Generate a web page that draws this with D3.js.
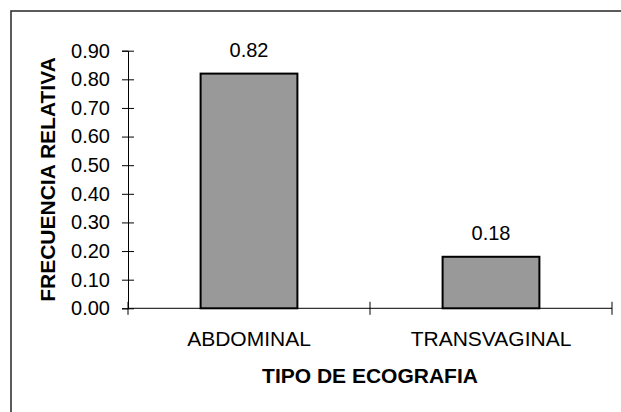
<!DOCTYPE html>
<html>
<head>
<meta charset="utf-8">
<script src="https://cdn.jsdelivr.net/npm/d3@7"></script>
<style>
  html, body { margin: 0; padding: 0; background: #fff; }
  svg { display: block; }
  text { font-family: "Liberation Sans", Arial, sans-serif; fill: #000; }
</style>
</head>
<body>
<svg id="chart" width="621" height="412"></svg>
<script>
const categories = ["ABDOMINAL", "TRANSVAGINAL"];
const values = [0.82, 0.18];
const valueLabels = ["0.82", "0.18"];
const yTicks = [0, 0.1, 0.2, 0.3, 0.4, 0.5, 0.6, 0.7, 0.8, 0.9];
const xTitle = "TIPO DE ECOGRAFIA";
const yTitle = "FRECUENCIA RELATIVA";

const svg = d3.select("#chart");

// outer border (right/bottom edges cropped in reference)
svg.append("rect")
  .attr("x", 11).attr("y", 11)
  .attr("width", 700).attr("height", 500)
  .attr("fill", "none").attr("stroke", "#333").attr("stroke-width", 1.6);

const plotLeft = 128, plotRight = 612, plotTop = 50.7, plotBottom = 308.3;

const y = d3.scaleLinear().domain([0, 0.9]).range([plotBottom, plotTop]);
const x = d3.scaleBand().domain(categories).range([plotLeft, plotRight])
  .paddingInner(0.6).paddingOuter(0.3);

// Y axis
const yAxis = svg.append("g")
  .attr("transform", `translate(${plotLeft},0)`)
  .call(d3.axisLeft(y).tickValues(yTicks).tickFormat(d3.format(".2f")).tickSize(6).tickPadding(12));
yAxis.select(".domain").attr("stroke", "#000").attr("stroke-width", 1);
yAxis.selectAll(".tick line").attr("x1", 6).attr("stroke", "#000");
yAxis.selectAll(".tick text").attr("font-size", 20)
  .attr("font-family", "'Liberation Sans', Arial, sans-serif");

// X axis line with boundary ticks
const xAxis = svg.append("g");
xAxis.append("line")
  .attr("x1", plotLeft).attr("x2", plotRight)
  .attr("y1", plotBottom).attr("y2", plotBottom)
  .attr("stroke", "#000").attr("stroke-width", 1);
const boundaries = categories.map(c => x(c) - x.paddingOuter() * x.step())
  .concat([x(categories[categories.length - 1]) + x.bandwidth() + x.paddingOuter() * x.step()]);
xAxis.selectAll("line.tick").data(boundaries).join("line")
  .attr("class", "tick")
  .attr("x1", d => d).attr("x2", d => d)
  .attr("y1", plotBottom - 6.5).attr("y2", plotBottom + 6.5)
  .attr("stroke", "#000").attr("stroke-width", 1);
xAxis.selectAll("text.cat").data(categories).join("text")
  .attr("class", "cat")
  .attr("x", d => x(d) + x.bandwidth() / 2)
  .attr("y", plotBottom + 37.7)
  .attr("text-anchor", "middle")
  .attr("font-size", 21)
  .text(d => d);

// Bars
svg.selectAll("rect.bar").data(values).join("rect")
  .attr("class", "bar")
  .attr("x", (d, i) => x(categories[i]))
  .attr("width", x.bandwidth())
  .attr("y", d => y(d))
  .attr("height", d => y(0) - y(d))
  .attr("fill", "#999999")
  .attr("stroke", "#000")
  .attr("stroke-width", 2);

// Value labels
svg.selectAll("text.val").data(values).join("text")
  .attr("class", "val")
  .attr("x", (d, i) => x(categories[i]) + x.bandwidth() / 2)
  .attr("y", d => y(d) - 17)
  .attr("text-anchor", "middle")
  .attr("font-size", 20)
  .text((d, i) => valueLabels[i]);

// Axis titles
svg.append("text")
  .attr("x", (plotLeft + plotRight) / 2)
  .attr("y", 382.7)
  .attr("text-anchor", "middle")
  .attr("font-size", 21)
  .attr("font-weight", "bold")
  .text(xTitle);

svg.append("text")
  .attr("transform", `translate(55,${(plotTop + plotBottom) / 2}) rotate(-90)`)
  .attr("text-anchor", "middle")
  .attr("font-size", 21)
  .attr("font-weight", "bold")
  .text(yTitle);
</script>
</body>
</html>
